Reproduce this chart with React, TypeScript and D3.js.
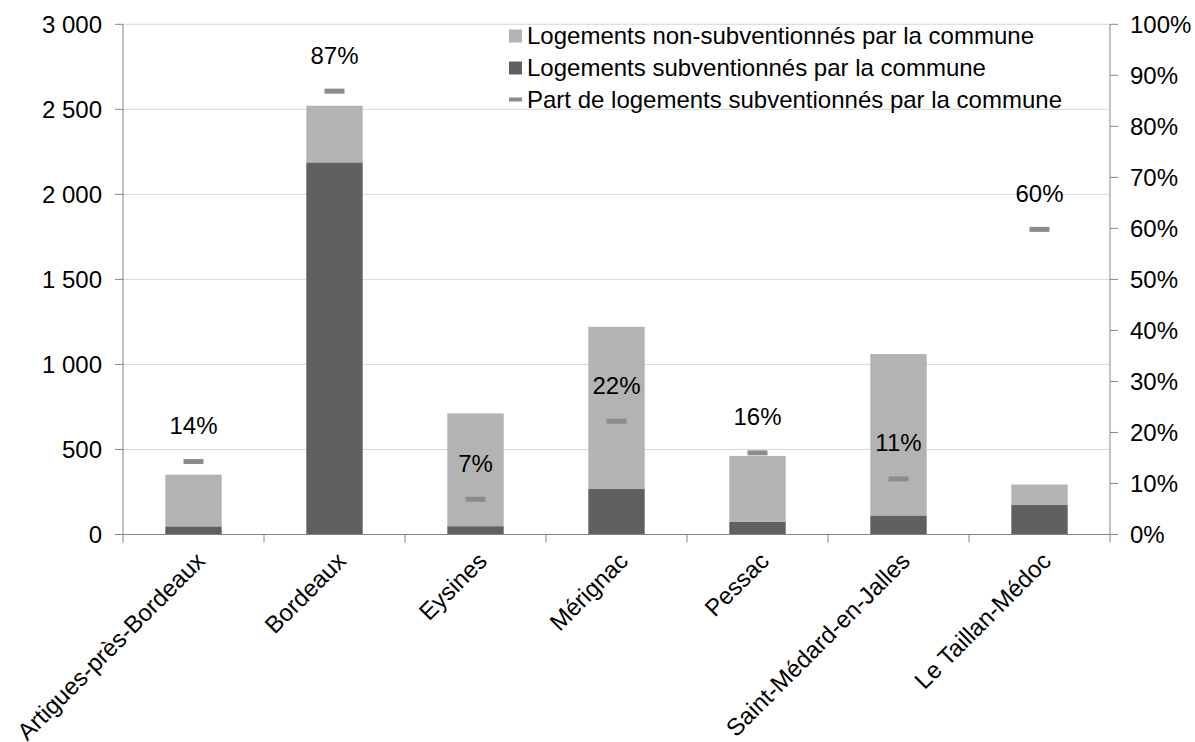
import React, { useEffect, useRef } from "react";
import * as d3 from "d3";

const communes = [
  "Artigues-près-Bordeaux",
  "Bordeaux",
  "Eysines",
  "Mérignac",
  "Pessac",
  "Saint-Médard-en-Jalles",
  "Le Taillan-Médoc",
];
const subventionnes = [48, 2188, 49, 268, 74, 112, 176];
const nonSubventionnes = [304, 333, 663, 953, 388, 949, 118];
const partSubventionnes = [0.143, 0.869, 0.069, 0.222, 0.16, 0.109, 0.598];
const leftTicks = [0, 500, 1000, 1500, 2000, 2500, 3000];
const rightTicks = [0, 0.1, 0.2, 0.3, 0.4, 0.5, 0.6, 0.7, 0.8, 0.9, 1];
const legendLabels = [
  "Logements non-subventionnés par la commune",
  "Logements subventionnés par la commune",
  "Part de logements subventionnés par la commune",
];

const W = 1195;
const H = 742;
const FONT = "'Liberation Sans', Arial, sans-serif";
const FS = 24;

export default function App() {
  const ref = useRef<SVGSVGElement>(null);

  useEffect(() => {
    const svg = d3.select(ref.current);
    svg.selectAll("*").remove();

    const x0 = 123, x1 = 1110, yTop = 24.3, yBot = 534.5;
    const x = d3.scaleBand().domain(communes).range([x0, x1]).paddingInner(0.6).paddingOuter(0.3);
    const band = d3.scaleBand().domain(communes).range([x0, x1]);
    const y = d3.scaleLinear().domain([0, 3000]).range([yBot, yTop]);
    const yR = d3.scaleLinear().domain([0, 1]).range([yBot, yTop]);
    const fr = d3.formatLocale({ thousands: " ", grouping: [3], decimal: ",", currency: ["", ""] });
    const fmt = fr.format(",");
    const pct = d3.format(".0%");

    const axisColor = "#868686";
    const g = svg.append("g");

    // gridlines
    g.selectAll(".grid").data(leftTicks.filter((t) => t > 0)).enter().append("line")
      .attr("x1", x0).attr("x2", x1)
      .attr("y1", (d) => y(d)).attr("y2", (d) => y(d))
      .attr("stroke", "#d9d9d9").attr("stroke-width", 1);

    // bars
    const data = communes.map((c, i) => ({ c, s: subventionnes[i], n: nonSubventionnes[i], p: partSubventionnes[i] }));
    g.selectAll(".bs").data(data).enter().append("rect")
      .attr("x", (d) => x(d.c)!).attr("width", x.bandwidth())
      .attr("y", (d) => y(d.s)).attr("height", (d) => y(0) - y(d.s))
      .attr("fill", "#606060");
    g.selectAll(".bn").data(data).enter().append("rect")
      .attr("x", (d) => x(d.c)!).attr("width", x.bandwidth())
      .attr("y", (d) => y(d.s + d.n)).attr("height", (d) => y(d.s) - y(d.s + d.n))
      .attr("fill", "#b3b3b3");

    // markers
    g.selectAll(".mk").data(data).enter().append("rect")
      .attr("x", (d) => band(d.c)! + band.bandwidth() / 2 - 10).attr("width", 20)
      .attr("y", (d) => yR(d.p) - 2.5).attr("height", 5)
      .attr("fill", "#8c8c8c");
    g.selectAll(".lbl").data(data).enter().append("text")
      .attr("x", (d) => band(d.c)! + band.bandwidth() / 2)
      .attr("y", (d) => yR(d.p) - 36).attr("dy", "0.35em")
      .attr("text-anchor", "middle").attr("font-family", FONT).attr("font-size", FS)
      .attr("fill", "#000").text((d) => pct(d.p));

    // axes lines
    g.append("line").attr("x1", x0).attr("x2", x0).attr("y1", yTop).attr("y2", yBot).attr("stroke", axisColor);
    g.append("line").attr("x1", x1).attr("x2", x1).attr("y1", yTop).attr("y2", yBot).attr("stroke", axisColor);
    g.append("line").attr("x1", x0).attr("x2", x1).attr("y1", yBot).attr("y2", yBot).attr("stroke", axisColor);

    // left ticks
    g.selectAll(".lt").data(leftTicks).enter().append("line")
      .attr("x1", x0 - 8).attr("x2", x0).attr("y1", (d) => y(d)).attr("y2", (d) => y(d)).attr("stroke", axisColor);
    g.selectAll(".ltl").data(leftTicks).enter().append("text")
      .attr("x", 102).attr("y", (d) => y(d)).attr("dy", "0.35em")
      .attr("text-anchor", "end").attr("font-family", FONT).attr("font-size", FS)
      .text((d) => fmt(d));

    // right ticks
    g.selectAll(".rt").data(rightTicks).enter().append("line")
      .attr("x1", x1).attr("x2", x1 + 8).attr("y1", (d) => yR(d)).attr("y2", (d) => yR(d)).attr("stroke", axisColor);
    g.selectAll(".rtl").data(rightTicks).enter().append("text")
      .attr("x", 1130).attr("y", (d) => yR(d)).attr("dy", "0.35em")
      .attr("text-anchor", "start").attr("font-family", FONT).attr("font-size", FS)
      .text((d) => pct(d));

    // category ticks
    const bounds = communes.map((c) => band(c)!).concat([x1]);
    g.selectAll(".ct").data(bounds).enter().append("line")
      .attr("x1", (d) => d).attr("x2", (d) => d).attr("y1", yBot).attr("y2", yBot + 8).attr("stroke", axisColor);
    g.selectAll(".cl").data(communes).enter().append("text")
      .attr("transform", (d) => `translate(${band(d)! + band.bandwidth() / 2 + 7},${yBot + 22}) rotate(-45)`)
      .attr("text-anchor", "end").attr("dy", "0.35em").attr("font-family", FONT).attr("font-size", FS)
      .text((d) => d);

    // legend
    const lx = 509, ly = [36, 68, 99.5];
    const lg = g.append("g");
    lg.append("rect").attr("x", lx).attr("y", ly[0] - 6.5).attr("width", 13).attr("height", 13).attr("fill", "#b3b3b3");
    lg.append("rect").attr("x", lx).attr("y", ly[1] - 6.5).attr("width", 13).attr("height", 13).attr("fill", "#606060");
    lg.append("rect").attr("x", lx).attr("y", ly[2] - 2).attr("width", 13).attr("height", 4).attr("fill", "#8c8c8c");
    lg.selectAll(".lgt").data(legendLabels).enter().append("text")
      .attr("x", lx + 18).attr("y", (d, i) => ly[i]).attr("dy", "0.35em")
      .attr("font-family", FONT).attr("font-size", FS).text((d) => d);
  }, []);

  return (
    <svg ref={ref} width={W} height={H} style={{ position: "absolute", left: 0, top: 0, background: "#fff" }} />
  );
}
